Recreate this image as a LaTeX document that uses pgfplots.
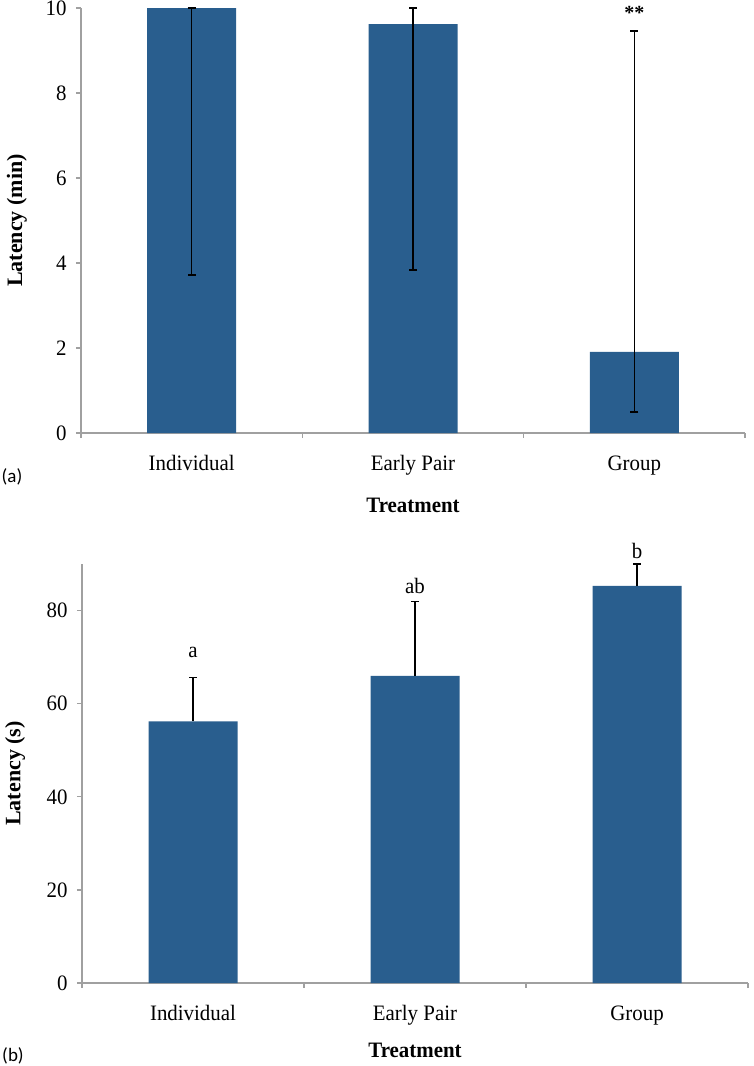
\documentclass[border=0pt]{standalone}
\usepackage{graphicx}
\usepackage{fontspec}
\setmainfont{Liberation Serif}
\newfontfamily\calfont{Carlito}
\usepackage{pgfplots}
\pgfplotsset{compat=1.18}

\definecolor{barblue}{RGB}{41,94,142}
\definecolor{axisgray}{RGB}{160,160,160}

% the reference text is a little narrow
\newcommand{\sq}[1]{\scalebox{0.95}[1]{#1}}

\pgfplotsset{
  panel/.style={
    scale only axis,
    anchor=south west,
    font=\fontsize{22}{26}\selectfont,
    /pgf/number format/assume math mode=true,
    axis x line=bottom,
    axis y line=left,
    axis line style={-, draw=axisgray, line width=1.3pt},
    tick style={draw=axisgray, line width=1.3pt},
    tick align=outside,
    major tick length=5pt,
    xmin=-0.5, xmax=2.5,
    xtick={-0.5,0.5,1.5,2.5},
    xticklabels={},
    extra x ticks={0,1,2},
    extra x tick labels={\sq{Individual},\sq{Early Pair},\sq{Group}},
    extra x tick style={tick style={draw=none}},
    xticklabel style={anchor=base, yshift=-32pt},
    yticklabel={\sq{\pgfmathprintnumber{\tick}}},
    yticklabel style={anchor=east, xshift=-6pt},
    ybar, bar width=89pt,
    clip=false,
    xlabel={\sq{\textbf{Treatment}}},
    error bars/error bar style={black, line width=1.5pt},
    error bars/error mark options={rotate=90, mark size=4pt, line width=1.5pt, black},
  },
}

\begin{document}
\begin{tikzpicture}
  \useasboundingbox (0,0) rectangle (753pt,-1066pt);

  % (a) latency in minutes
  \begin{axis}[panel,
    at={(81pt,-433pt)},
    width=664pt, height=425pt,
    ymin=0, ymax=10, ytick={0,2,...,10},
    ylabel={\textbf{Latency (min)}},
    xlabel style={at={(axis description cs:0.5,0)}, anchor=center, yshift=-72pt},
    ylabel style={at={(axis description cs:-0.0964,0.5)}, anchor=center},
    ]
    \addplot [fill=barblue, draw=none,
      error bars/.cd, y dir=both, y explicit]
      coordinates {
        (0,10)   +- (0,0) -= (0,6.28)
        (1,9.62) += (0,0.38) -= (0,5.78)
        (2,1.91) += (0,7.55) -= (0,1.42)
      };
    \node [anchor=base] at (axis cs:2,9.74) {\fontsize{20}{24}\selectfont\textbf{**}};
  \end{axis}

  % (b) latency in seconds
  \begin{axis}[panel,
    at={(82pt,-983pt)},
    width=666pt, height=419pt,
    ymin=0, ymax=90, ytick={0,20,...,80},
    ylabel={\textbf{Latency (s)}},
    xlabel style={at={(axis description cs:0.5,0)}, anchor=center, yshift=-67pt},
    ylabel style={at={(axis description cs:-0.1006,0.5)}, anchor=center},
    ]
    \addplot [fill=barblue, draw=none,
      error bars/.cd, y dir=plus, y explicit]
      coordinates {
        (0,56.2) += (0,9.4)
        (1,66.0) += (0,16.0)
        (2,85.3) += (0,4.7)
      };
    \node [anchor=base] at (axis cs:0,70.0) {\sq{a}};
    \node [anchor=base] at (axis cs:1,83.7) {\sq{ab}};
    \node [anchor=base] at (axis cs:2,91.2) {\sq{b}};
  \end{axis}

  \node [font=\calfont\fontsize{19}{22}\selectfont] at (12pt,-477pt) {(a)};
  \node [font=\calfont\fontsize{19}{22}\selectfont] at (13pt,-1056pt) {(b)};
\end{tikzpicture}
\end{document}
